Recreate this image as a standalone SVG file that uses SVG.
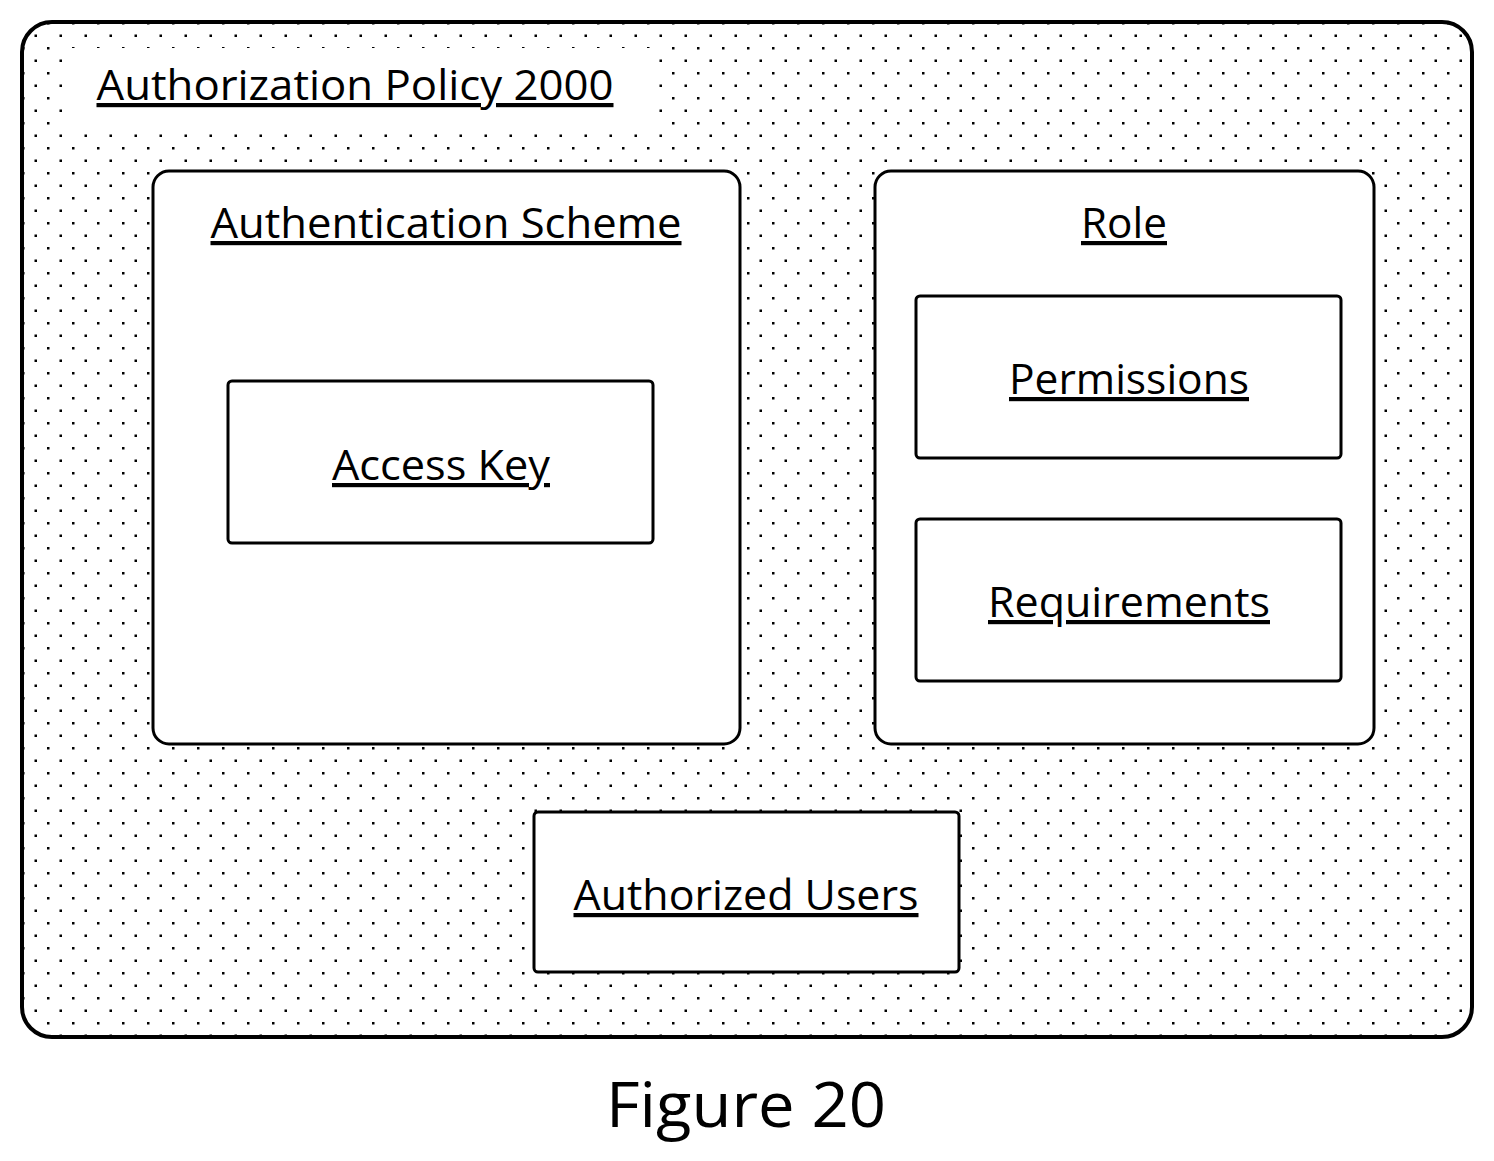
<svg xmlns="http://www.w3.org/2000/svg" width="1494" height="1161" viewBox="0 0 1494 1161">
<defs>
<pattern id="dots" x="22" y="22" width="25" height="25" patternUnits="userSpaceOnUse">
<rect x="0" y="0" width="2.5" height="2.5" fill="#000"/>
<rect x="12.5" y="12.5" width="2.5" height="2.5" fill="#000"/>
</pattern>
</defs>
<style>
.box{fill:#fff;stroke:#000;stroke-width:3}
.t{font-family:"Open Sans","Liberation Sans",sans-serif;font-size:42px;fill:#000;text-decoration:underline;text-anchor:middle}
</style>
<rect width="1494" height="1161" fill="#fff"/>
<g id="policy">
<rect x="22" y="22" width="1450" height="1015" rx="30" fill="url(#dots)" stroke="#000" stroke-width="4"/>
<rect x="62" y="48" width="596" height="82" fill="#fff"/>
<text class="t" x="355" y="100" textLength="517" lengthAdjust="spacingAndGlyphs">Authorization Policy 2000</text>
</g>
<g id="auth-scheme">
<rect class="box" x="153" y="171" width="587" height="573" rx="16"/>
<text class="t" x="446" y="238" textLength="471" lengthAdjust="spacingAndGlyphs">Authentication Scheme</text>
</g>
<g id="access-key">
<rect class="box" x="228" y="381" width="425" height="162" rx="4"/>
<text class="t" x="441" y="480" textLength="218" lengthAdjust="spacingAndGlyphs">Access Key</text>
</g>
<g id="role">
<rect class="box" x="875" y="171" width="499" height="573" rx="16"/>
<text class="t" x="1124" y="238" textLength="86" lengthAdjust="spacingAndGlyphs">Role</text>
</g>
<g id="permissions">
<rect class="box" x="916" y="296" width="425" height="162" rx="4"/>
<text class="t" x="1129" y="394" textLength="240" lengthAdjust="spacingAndGlyphs">Permissions</text>
</g>
<g id="requirements">
<rect class="box" x="916" y="519" width="425" height="162" rx="4"/>
<text class="t" x="1129" y="617" textLength="282" lengthAdjust="spacingAndGlyphs">Requirements</text>
</g>
<g id="authorized-users">
<rect class="box" x="534" y="812" width="425" height="160" rx="4"/>
<text class="t" x="746" y="910" textLength="345" lengthAdjust="spacingAndGlyphs">Authorized Users</text>
</g>
<g id="connectors"></g>
<text x="746" y="1127" font-family="Open Sans, Liberation Sans, sans-serif" font-size="62" text-anchor="middle" textLength="280" lengthAdjust="spacingAndGlyphs">Figure 20</text>
</svg>
